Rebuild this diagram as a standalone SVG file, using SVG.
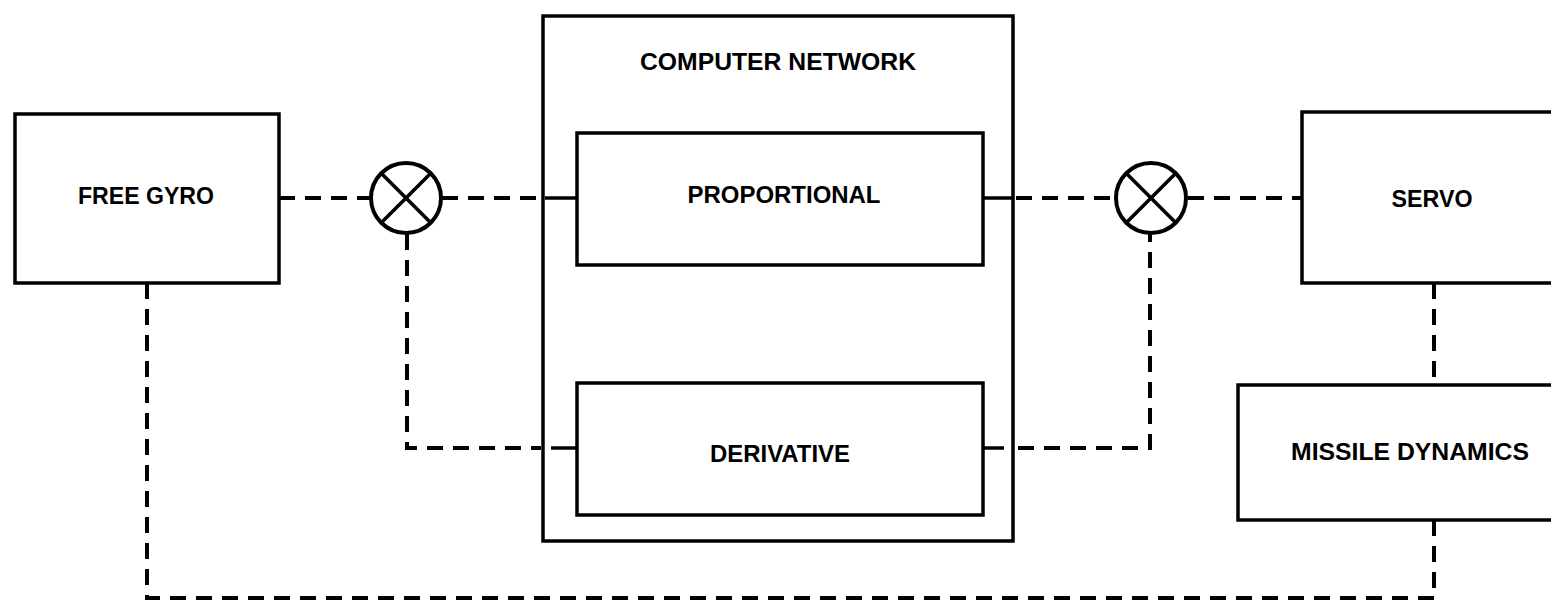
<svg xmlns="http://www.w3.org/2000/svg" width="1551" height="605" viewBox="0 0 1551 605">
<style>
.box{fill:none;stroke:#000;stroke-width:3.5}
.lbl{font-family:"Liberation Sans",Arial,sans-serif;font-weight:bold;font-size:23px;fill:#000;text-anchor:middle}
.dash{fill:none;stroke:#000;stroke-width:4;stroke-dasharray:16 10}
.solid{fill:none;stroke:#000;stroke-width:3.5}
.junc{fill:#fff;stroke:#000;stroke-width:4}
</style>
<rect width="1551" height="605" fill="#fff"/>
<g id="connectors">
  <line class="dash" x1="279" y1="198" x2="370" y2="198"/>
  <line class="dash" x1="442" y1="198" x2="541" y2="198"/>
  <line class="solid" x1="545" y1="198" x2="577" y2="198"/>
  <line class="solid" x1="983" y1="198" x2="1012" y2="198"/>
  <line class="dash" x1="1016" y1="198" x2="1115" y2="198"/>
  <line class="dash" x1="1188" y1="198" x2="1302" y2="198"/>
  <polyline class="dash" points="407,234 407,448 541,448"/>
  <line class="solid" x1="551" y1="448" x2="577" y2="448"/>
  <line class="solid" x1="983" y1="448" x2="1004" y2="448"/>
  <polyline class="dash" points="1018,448 1150,448 1150,234"/>
  <line class="dash" x1="1434" y1="283" x2="1434" y2="385"/>
  <polyline class="dash" points="1434,520 1434,598 147,598 147,283"/>
</g>
<g id="free-gyro">
  <rect class="box" x="15" y="114" width="264" height="169"/>
  <text class="lbl" x="146" y="204" textLength="136" lengthAdjust="spacingAndGlyphs">FREE GYRO</text>
</g>
<g id="junction-1">
  <circle class="junc" cx="406" cy="198" r="35"/>
  <line class="solid" x1="381" y1="173" x2="431" y2="223"/>
  <line class="solid" x1="431" y1="173" x2="381" y2="223"/>
</g>
<g id="computer-network">
  <rect class="box" x="543" y="16" width="470" height="525"/>
  <text class="lbl" x="778" y="70" textLength="276" lengthAdjust="spacingAndGlyphs">COMPUTER NETWORK</text>
</g>
<g id="proportional">
  <rect class="box" x="577" y="133" width="406" height="132"/>
  <text class="lbl" x="784" y="203" textLength="193" lengthAdjust="spacingAndGlyphs">PROPORTIONAL</text>
</g>
<g id="derivative">
  <rect class="box" x="577" y="383" width="406" height="132"/>
  <text class="lbl" x="780" y="462" textLength="140" lengthAdjust="spacingAndGlyphs">DERIVATIVE</text>
</g>
<g id="junction-2">
  <circle class="junc" cx="1151" cy="198" r="35"/>
  <line class="solid" x1="1126" y1="173" x2="1176" y2="223"/>
  <line class="solid" x1="1176" y1="173" x2="1126" y2="223"/>
</g>
<g id="servo">
  <rect class="box" x="1302" y="112" width="270" height="171"/>
  <text class="lbl" x="1432" y="207" textLength="81" lengthAdjust="spacingAndGlyphs">SERVO</text>
</g>
<g id="missile-dynamics">
  <rect class="box" x="1238" y="385" width="330" height="135"/>
  <text class="lbl" x="1410" y="460" textLength="238" lengthAdjust="spacingAndGlyphs">MISSILE DYNAMICS</text>
</g>
</svg>
